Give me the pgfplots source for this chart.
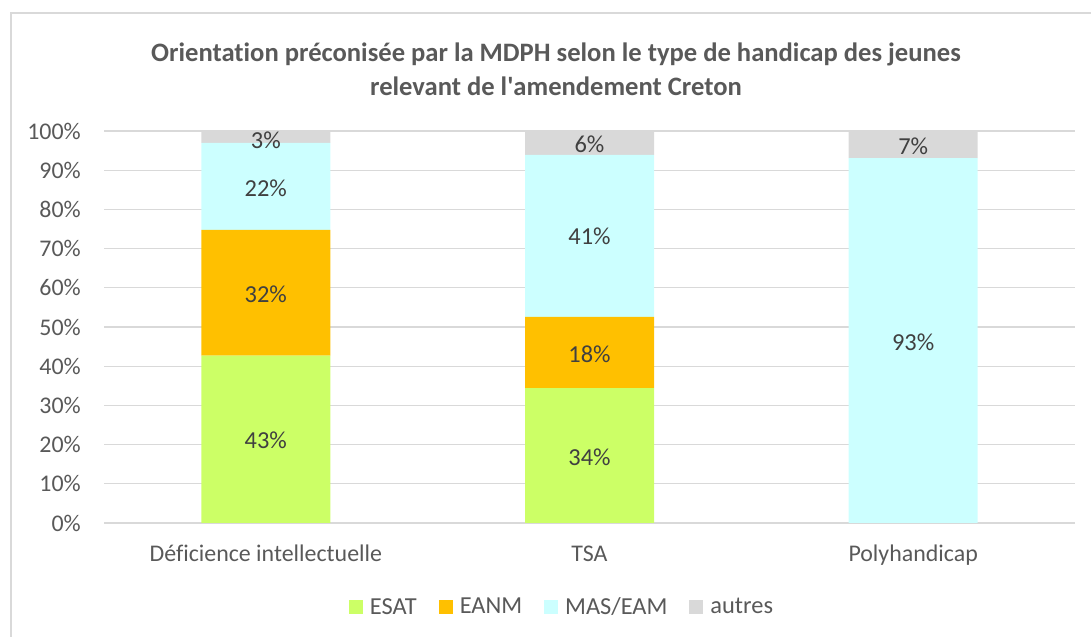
\documentclass[border=0pt]{standalone}
\usepackage{fontspec}
\setmainfont{Carlito}[Ligatures={NoCommon}]
\usepackage{pgfplots}
\pgfplotsset{compat=1.18}

\definecolor{cEsat}{HTML}{CCFF66}
\definecolor{cEanm}{HTML}{FFC000}
\definecolor{cMas}{HTML}{CCFFFF}
\definecolor{cAutres}{HTML}{D9D9D9}
\definecolor{txt}{HTML}{595959}
\definecolor{lbl}{HTML}{404040}
\definecolor{gridc}{HTML}{D9D9D9}
\tikzset{lab/.style={font=\fontsize{24.5}{28}\selectfont,text=lbl}}

\begin{document}
\begin{tikzpicture}
\useasboundingbox (0bp,0bp) rectangle (1091bp,637bp);
\draw[gridc,line width=1.3bp] (11bp,0bp) -- (11bp,624bp) -- (1091bp,624bp);
\node[align=center,font=\fontsize{26.7}{34}\selectfont\bfseries,text=txt] at (556bp,568bp)
  {Orientation préconisée par la MDPH selon le type de handicap des jeunes\\relevant de l\textquotesingle amendement Creton};
\begin{axis}[
  at={(104bp,114bp)},anchor=south west,
  width=971bp,height=392bp,scale only axis,
  ybar stacked,bar width=129bp,
  xmin=-0.5,xmax=2.5,ymin=0,ymax=100,
  xtick={0,1,2},
  xticklabels={Déficience intellectuelle,TSA,Polyhandicap},
  ytick={0,10,...,100},
  yticklabel={\pgfmathprintnumber{\tick}\%},
  ymajorgrids,grid style={gridc,line width=1.3bp},
  axis line style={draw=none},
  major tick style={draw=none},
  tick label style={font=\fontsize{24}{28}\selectfont,text=txt,inner sep=0pt},
  yticklabel style={anchor=east,xshift=-23bp},
  xticklabel style={anchor=base,yshift=-38bp},
  /pgf/number format/assume math mode=true,
  legend columns=4,
  legend style={draw=none,at={(0.4717,-0.2140)},anchor=center,
    font=\fontsize{24.5}{28}\selectfont,text=txt,inner sep=0pt,
    /tikz/every odd column/.append style={column sep=5bp},
    /tikz/every even column/.append style={column sep=20bp}},
  legend image code/.code={\fill[#1] (0bp,-7bp) rectangle (14bp,7bp);},
]
\addplot[fill=cEsat,draw=none] coordinates {(0,42.7) (1,34.4) (2,0)};
\addlegendentry{ESAT}
\addplot[fill=cEanm,draw=none] coordinates {(0,32.1) (1,18.2) (2,0)};
\addlegendentry{EANM}
\addplot[fill=cMas,draw=none] coordinates {(0,22.2) (1,41.3) (2,93.1)};
\addlegendentry{MAS/EAM}
\addplot[fill=cAutres,draw=none] coordinates {(0,3.0) (1,6.1) (2,6.9)};
\addlegendentry{autres}

\coordinate (a1) at (axis cs:0,21.0);
\coordinate (a2) at (axis cs:0,58.4);
\coordinate (a3) at (axis cs:0,85.5);
\coordinate (a4) at (axis cs:0,97.6);
\coordinate (b1) at (axis cs:1,16.8);
\coordinate (b2) at (axis cs:1,43.1);
\coordinate (b3) at (axis cs:1,73.2);
\coordinate (b4) at (axis cs:1,96.6);
\coordinate (c3) at (axis cs:2,46.2);
\coordinate (c4) at (axis cs:2,96.2);
\end{axis}
\node[lab] at (a1) {43\%};
\node[lab] at (a2) {32\%};
\node[lab] at (a3) {22\%};
\node[lab] at (a4) {3\%};
\node[lab] at (b1) {34\%};
\node[lab] at (b2) {18\%};
\node[lab] at (b3) {41\%};
\node[lab] at (b4) {6\%};
\node[lab] at (c3) {93\%};
\node[lab] at (c4) {7\%};
\end{tikzpicture}
\end{document}
